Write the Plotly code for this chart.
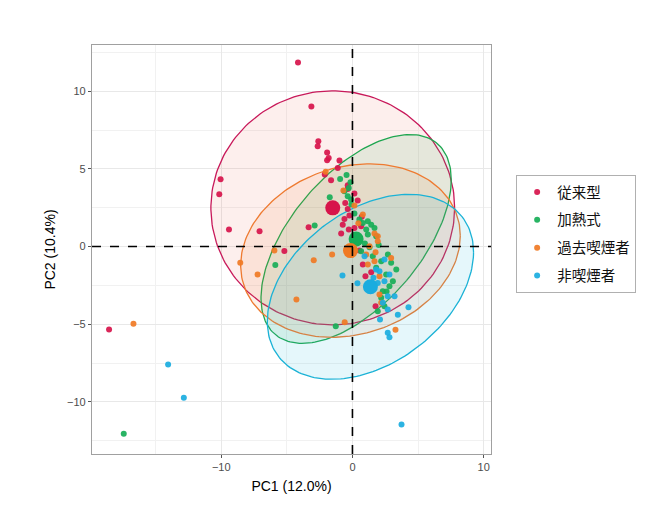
import numpy as np
import plotly.graph_objects as go

groups = ["従来型", "加熱式", "過去喫煙者", "非喫煙者"]
colors = ["#D7144B", "#17AE57", "#F07A24", "#1AACDF"]

# PC scores per group
pc1_conv = [-4.15, -3.13, -10.05, -10.15, -9.41, -7.08, -18.55, -5.19, -3.34, -2.60, -2.65, -1.93,
            -1.81, -1.93, -0.99, -1.12, -2.11, -1.63, -0.36, 0.15, 0.40, -0.36, -0.23, -0.61, -0.74,
            -0.86, -0.28, 0.71, 0.66, 0.79, 0.99, 1.76, -0.36, 0.15, 1.43, 0.53, -0.55]
pc2_conv = [11.85, 9.02, 4.33, 3.36, 1.09, 0.98, -5.34, -0.28, 1.24, 6.77, 6.46, 6.06,
            5.70, 5.55, 5.53, 5.06, 4.63, 4.26, 3.71, 3.41, 2.96, 2.42, 1.99, 1.78, 1.41,
            0.84, 1.09, 1.91, 1.31, -1.16, -1.91, -3.84, 3.95, 1.20, -1.65, -0.25, 2.80]

pc1_heat = [-17.43, -1.27, -5.88, -2.88, -1.73, -0.94, -0.15, -0.28, -0.61, -0.36, -0.10, -0.08,
            1.17, 1.43, 1.05, 1.68, 0.79, 1.17, 1.81, 0.15, 0.53, 0.66, 1.55, 2.19, 2.70, 2.95,
            3.34, 2.57, 1.81, 3.08, 2.82, 2.31, 2.44, 2.19, 1.93, 0.95, 1.30, 2.00, 2.60, -0.45]
pc2_heat = [-12.05, -5.13, -1.18, 1.35, 3.17, 4.35, 4.14, 3.77, 3.56, 3.23, 3.02, 2.70,
            1.63, 1.41, 1.09, 1.20, 1.52, 0.77, 0.66, 2.12, 1.74, -0.30, -0.62, -0.95, -0.51, -1.05,
            -1.48, -1.80, -1.37, -2.23, -2.55, -2.87, -3.84, -3.30, -4.16, 0.20, -0.05, 0.10, -2.90, 4.60]

pc1_past = [-16.69, -4.27, -2.95, -1.55, -7.23, -8.55, -5.95, -0.59, 3.28, -2.04, 0.79, 1.68,
            1.93, -0.69, 0.15, 1.93, 1.30, 1.05, 1.68, 2.95, 2.06, 2.06, 2.19, 1.17, 1.76, 0.45]
pc2_past = [-4.97, -3.41, -0.88, -0.51, -1.80, -1.05, -0.26, -4.87, -5.36, 4.82, 2.06, 0.84,
            0.34, 3.60, 2.64, 0.66, 0.02, -0.51, -0.95, -0.73, -1.91, -3.09, -3.62, -1.16, -0.37, 1.50]

pc1_non = [-14.05, -12.85, 3.74, 4.27, 3.46, 2.69, 2.82, -0.76, 0.38, 0.92, 2.06, 2.44, 1.93,
           2.82, 2.69, 3.21, 2.31, 2.69, 2.44, 1.81, 1.60, 2.10]
pc2_non = [-7.59, -9.73, -11.45, -3.90, -4.39, -5.55, -5.83, -1.86, -2.36, -0.62, -1.59, -2.23, -2.34,
           -1.80, -3.20, -3.20, -3.62, -4.05, -0.84, -1.48, -2.00, -4.70]

pc1_all = [pc1_conv, pc1_heat, pc1_past, pc1_non]
pc2_all = [pc2_conv, pc2_heat, pc2_past, pc2_non]

# group centroids
cen1 = [-1.50, 0.28, -0.15, 1.37]
cen2 = [2.49, 0.49, -0.26, -2.59]

# ellipse: half-extent in PC1, half-extent in PC2, correlation-like coupling
ell_hx = [9.29, 7.25, 8.37, 7.86]
ell_hy = [7.53, 6.72, 5.58, 5.95]
ell_r = [0.0, 0.567, 0.17, 0.375]

fills = ["rgba(240,110,90,0.11)", "rgba(60,175,90,0.12)", "rgba(240,122,36,0.10)", "rgba(40,190,220,0.12)"]
lines = ["#C8195A", "#1FA650", "#EE7A30", "#1BB2D6"]

fig = go.Figure()

t = np.linspace(0, 2 * np.pi, 200)
for i, g in enumerate(groups):
    d = np.arccos(ell_r[i])
    ex = cen1[i] + ell_hx[i] * np.cos(t)
    ey = cen2[i] + ell_hy[i] * np.cos(t - d)
    fig.add_trace(go.Scatter(x=ex, y=ey, mode="lines", fill="toself", fillcolor=fills[i],
                             line=dict(color=lines[i], width=1.3), showlegend=False, hoverinfo="skip"))

for i, g in enumerate(groups):
    fig.add_trace(go.Scatter(x=pc1_all[i], y=pc2_all[i], mode="markers", name=g, legendgroup=g,
                             marker=dict(color=colors[i], size=6, opacity=0.92, line=dict(width=0))))

for i, g in enumerate(groups):
    fig.add_trace(go.Scatter(x=[cen1[i]], y=[cen2[i]], mode="markers", showlegend=False,
                             marker=dict(color=colors[i], size=15, line=dict(width=0))))

fig.add_hline(y=0, line=dict(color="black", width=1.6, dash="dash"))
fig.add_vline(x=0, line=dict(color="black", width=1.6, dash="dash"))

axis_common = dict(showline=True, mirror=True, linecolor="#A0A0A0", linewidth=1.2,
                   ticks="outside", ticklen=3, tickcolor="#555555", zeroline=False,
                   gridcolor="#E8E8E8", gridwidth=0.8,
                   tickfont=dict(family="Liberation Sans", size=11, color="#4D4D4D"))

fig.update_layout(
    width=664, height=507,
    margin=dict(l=92, r=173, t=45, b=53),
    plot_bgcolor="white", paper_bgcolor="white",
    xaxis=dict(range=[-19.85, 10.56], tickvals=[-10, 0, 10], ticktext=["−10", "0", "10"],
               minor=dict(tickvals=[-15, -5, 5], showgrid=True, gridcolor="#F1F1F1", ticks=""),
               title=dict(text="PC1 (12.0%)", font=dict(family="Liberation Sans", size=14, color="black"), standoff=8),
               **axis_common),
    yaxis=dict(range=[-13.35, 12.97], tickvals=[-10, -5, 0, 5, 10], ticktext=["−10", "−5", "0", "5", "10"],
               minor=dict(tickvals=[-12.5, -7.5, -2.5, 2.5, 7.5, 12.5], showgrid=True, gridcolor="#F1F1F1", ticks=""),
               title=dict(text="PC2 (10.4%)", font=dict(family="Liberation Sans", size=14, color="black"), standoff=8),
               **axis_common),
    legend=dict(x=1.063, y=0.682, xanchor="left", yanchor="top",
                bordercolor="#B0B0B0", borderwidth=1, bgcolor="white",
                font=dict(family="Noto Sans CJK JP", size=14.5, color="#111111"),
                tracegroupgap=6, itemsizing="trace"),
    showlegend=True,
)

fig.write_html("out.html")
